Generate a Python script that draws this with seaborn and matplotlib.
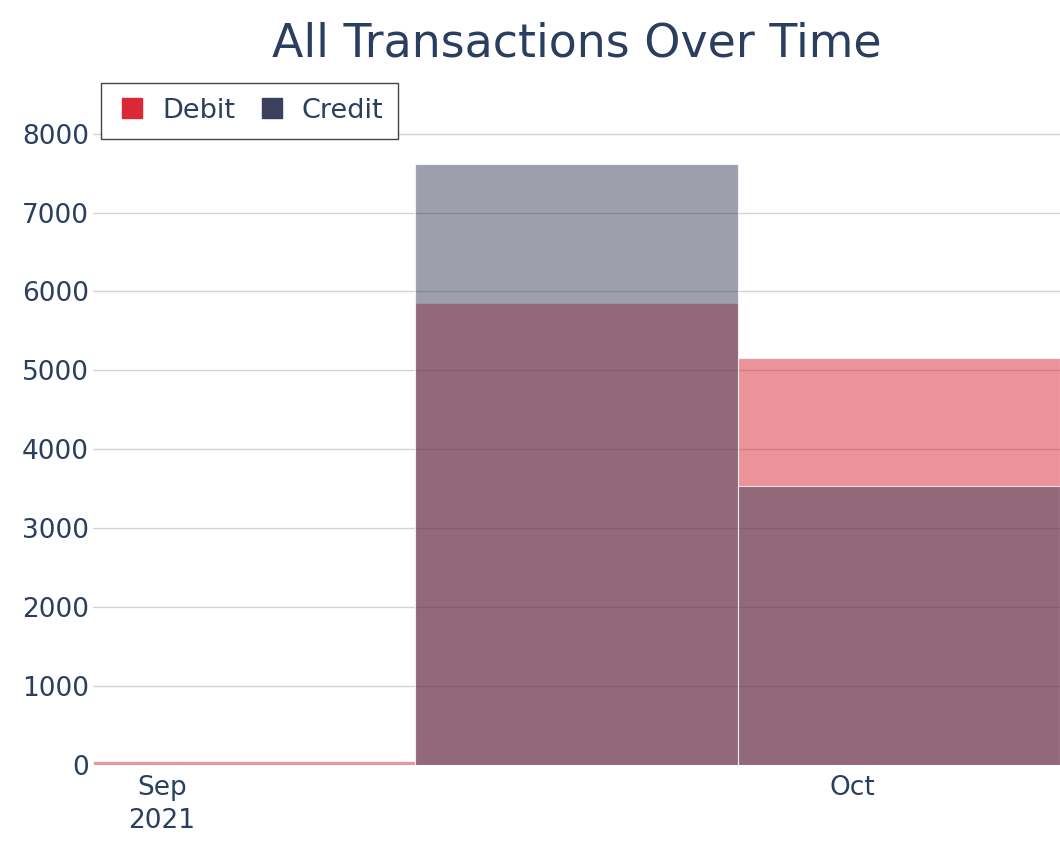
import pandas as pd
import matplotlib
matplotlib.use("Agg")
import matplotlib.pyplot as plt
import matplotlib.dates as mdates
from matplotlib.lines import Line2D
import seaborn as sns

# transaction totals per two-week bin (dates are bin midpoints)
bin_dates = ["2021-09-01", "2021-09-15", "2021-09-29"]
debit_amounts = [50, 5850, 5160]
credit_amounts = [0, 7620, 3540]
bin_edges = ["2021-08-29", "2021-09-12", "2021-09-26", "2021-10-10"]
tick_dates = ["2021-09-01", "2021-10-01"]
tick_labels = ["Sep\n2021", "Oct"]
series_names = ["Debit", "Credit"]
series_colors = ["#DA2837", "#3C405C"]

TEXT = "#2a3f5f"


def build_frame() -> pd.DataFrame:
	"""long-form frame: one row per bin and series"""
	rows = []
	for name, amounts in zip(series_names, [debit_amounts, credit_amounts]):
		for d, a in zip(bin_dates, amounts):
			rows.append({"date": pd.Timestamp(d), "amount": a, "type": name})
	return pd.DataFrame(rows)


def main():
	df = build_frame()
	edges = [float(e) for e in mdates.date2num(pd.to_datetime(bin_edges))]

	sns.set_theme(style="white")
	plt.rcParams["font.family"] = ["DejaVu Sans"]

	fig = plt.figure(figsize=(10.6, 8.47), dpi=100)
	W, H = 1060, 847
	left, right, top, bottom = 93, 1060, 76, 765
	ax = fig.add_axes([left / W, 1 - bottom / H, (right - left) / W, (bottom - top) / H])

	# debit first, credit layered on top
	for name, color in zip(series_names, series_colors):
		sns.histplot(data=df[df["type"] == name], x="date", weights="amount",
					 bins=edges, color=color, alpha=0.5, ax=ax,
					 edgecolor=(1, 1, 1, 0.7), linewidth=0.8, zorder=2)

	ax.set_xlim(edges[0], edges[-1])
	ax.set_ylim(0, 8730)
	ax.set_yticks(range(0, 8001, 1000))
	ax.yaxis.grid(True, color="#d2d2d2", linewidth=1, zorder=0)
	ax.set_axisbelow(True)
	ax.set_xticks(mdates.date2num(pd.to_datetime(tick_dates)))
	ax.set_xticklabels(tick_labels)
	ax.tick_params(axis="both", length=0, labelsize=19, colors=TEXT)
	ax.tick_params(axis="x", pad=7)
	ax.tick_params(axis="y", pad=3)
	for lbl in ax.get_xticklabels():
		lbl.set_linespacing(1.35)
	ax.set_xlabel("")
	ax.set_ylabel("")
	sns.despine(ax=ax, left=True, bottom=True)

	ax.set_title("All Transactions Over Time", fontsize=33, color=TEXT, pad=14)

	handles = [Line2D([0], [0], marker="s", linestyle="none", markersize=14,
					  markerfacecolor=c, markeredgecolor=c) for c in series_colors]
	leg = ax.legend(handles, series_names, loc="upper left", bbox_to_anchor=(0.0083, 0.99),
					ncol=2, fontsize=19.5, frameon=True, fancybox=False, borderaxespad=0,
					handlelength=1.2, handletextpad=0.5, columnspacing=0.75,
					borderpad=0.55, labelcolor=TEXT)
	leg.get_frame().set_edgecolor("#444444")
	leg.get_frame().set_linewidth(1)
	leg.get_frame().set_alpha(1)

	plt.savefig("out.png", dpi=100)


if __name__ == '__main__':
	main()
